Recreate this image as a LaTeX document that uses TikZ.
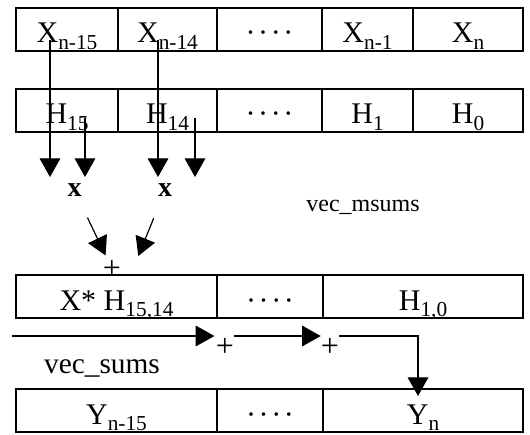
\documentclass[tikz,border=0pt]{standalone}
\usepackage{fontspec}
\setmainfont{Liberation Serif}
\usetikzlibrary{arrows.meta, positioning}
\newcommand\lo[1]{\raisebox{-5pt}{\fontsize{16}{16}\selectfont #1}}
\newcommand\mdots{·\kern2pt·\kern2pt·\kern2pt·}

\begin{document}
\begin{tikzpicture}[x=0.75pt, y=-0.75pt,
    cell/.style={draw, line width=1.2pt, inner sep=0pt, outer sep=0pt, text height=26.25pt, text depth=6pt, font=\fontsize{22.5}{22.5}\selectfont},
    a/.style={-{Triangle[length=14pt, width=15.5pt]}, line width=0.9pt},
    op/.style={inner sep=0pt, font=\fontsize{24}{24}\selectfont},
    mul/.style={inner sep=0pt, font=\fontsize{21}{21}\selectfont\bfseries},
    lb/.style={inner sep=0pt}
]
\useasboundingbox (0,0) rectangle (530,434);
% input samples
\node[cell, minimum width=76.5pt, anchor=north west] (x1) at (16,8) {X\lo{n-15}};
\node[cell, minimum width=74.25pt, right=0pt of x1] (x2) {X\lo{n-14}};
\node[cell, minimum width=78.75pt, right=0pt of x2] (x3) {\mdots};
\node[cell, minimum width=68.25pt, right=0pt of x3] (x4) {X\lo{n-1}};
\node[cell, minimum width=82.5pt, right=0pt of x4] (x5) {X\lo{n}};
% coefficients
\node[cell, minimum width=76.5pt, anchor=north west] (h1) at (16,89) {H\lo{15}};
\node[cell, minimum width=74.25pt, right=0pt of h1] (h2) {H\lo{14}};
\node[cell, minimum width=78.75pt, right=0pt of h2] (h3) {\mdots};
\node[cell, minimum width=68.25pt, right=0pt of h3] (h4) {H\lo{1}};
\node[cell, minimum width=82.5pt, right=0pt of h4] (h5) {H\lo{0}};
% partial products
\node[cell, minimum width=150.75pt, anchor=north west] (s1) at (16,275) {X* H\lo{15,14}};
\node[cell, minimum width=79.5pt, right=0pt of s1] (s2) {\mdots};
\node[cell, minimum width=150pt, right=0pt of s2] (s3) {H\lo{1,0}};
% outputs
\node[cell, minimum width=150.75pt, anchor=north west] (y1) at (16,389) {Y\lo{n-15}};
\node[cell, minimum width=79.5pt, right=0pt of y1] (y2) {\mdots};
\node[cell, minimum width=150pt, right=0pt of y2] (y3) {Y\lo{n}};

\node[mul] (m1) at (74.5,190.5) {x};
\node[mul] (m2) at (165,190.5) {x};
\node[op] (p0) at (112,269) {+};
\node[op] (p1) at (225,347) {+};
\node[op] (p2) at (330,347) {+};
\node[lb, font=\fontsize{18}{18}\selectfont] (msums) at (363,207) {vec\_msums};
\node[lb, font=\fontsize{22}{22}\selectfont] (sums) at (102,368) {vec\_sums};

\coordinate (xa) at (50,40);
\coordinate (ha) at (85,118);
\coordinate (xb) at (158,40);
\coordinate (hb) at (195,118);
\coordinate (tips) at (0,177);
\coordinate (in) at (12,336);
\coordinate (yin) at (418,396);

\draw[a] (xa) -- (xa |- tips);
\draw[a] (ha) -- (ha |- tips);
\draw[a] (xb) -- (xb |- tips);
\draw[a] (hb) -- (hb |- tips);
\draw[a, shorten <=17pt, shorten >=3.5pt] (m1) -- (p0);
\draw[a, shorten <=17pt, shorten >=10.5pt] (m2) -- ([xshift=15.75pt]p0.center);
\draw[a, shorten >=1pt] (in) -- (in -| p1.west);
\draw[a] (p1.east |- in) -- (in -| p2.west);
\draw[a] (p2.east |- in) -| (yin);
\end{tikzpicture}
\end{document}
